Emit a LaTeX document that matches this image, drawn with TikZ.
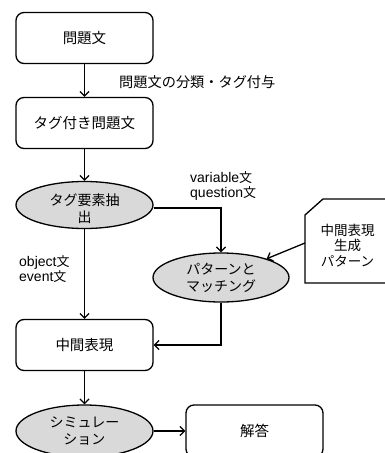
\documentclass[tikz,border=0pt]{standalone}
\usepackage{fontspec}
\setmainfont{Noto Sans CJK JP}
\newfontfamily\lat{Liberation Sans}
\usetikzlibrary{arrows.meta,shapes.geometric}
\definecolor{ellgray}{RGB}{217,217,217}
\tikzset{
  base/.style={draw=black, line width=1.3pt, inner sep=0pt, align=center,
    font=\fontsize{14.5}{17}\selectfont},
  procbox/.style={base, rectangle, rounded corners=8pt, fill=white,
    minimum width=137pt, minimum height=51pt},
  procell/.style={base, ellipse, fill=ellgray,
    minimum width=137pt, minimum height=47pt, font=\fontsize{14}{17}\selectfont},
  lbl/.style={inner sep=0pt, anchor=west, align=left, font=\fontsize{14.2}{15}\selectfont},
  conn/.style={line width=1.3pt, -{Straight Barb[length=4.5pt,width=9pt,line width=1.3pt]}}
}
\begin{document}
\begin{tikzpicture}[x=1pt,y=-1pt]
\useasboundingbox (0,0) rectangle (385,453);
% nodes
\node[procbox] (q1) at (84.5,38) {問題文};
\node[procbox] (q2) at (84.5,123) {タグ付き問題文};
\node[procell] (e1) at (84.5,205) {\raisebox{-9pt}[0pt][0pt]{\begin{tabular}{@{}c@{}}タグ要素抽\\出\end{tabular}}};
\node[procell, minimum width=136pt, minimum height=49pt] (pm) at (221,277.5) {パターンと\\マッチング};
\node[procbox] (q3) at (84.5,345) {中間表現};
\node[procell, minimum height=52pt] (sim) at (84.5,431) {シミュレー\\ション};
\node[procbox, minimum height=52pt] (ans) at (254.5,431) {解答};
% pattern box (cut-corner card)
\draw[line width=1.3pt, fill=white] (395,199) -- (323,199) -- (305,215) -- (305,283) -- (395,283);
\node[inner sep=0pt, align=center, font=\fontsize{13.5}{15.5}\selectfont] (pt) at (347.5,245.5) {中間表現\\生成\\パターン};
\coordinate (patL) at (305,243);
% labels
\node[lbl] (l1) at (119,82.5) {問題文の分類・タグ付与};
\node[lbl, font=\fontsize{13}{15}\selectfont] (l2) at (190,185.5) {{\lat\fontsize{14}{15}\selectfont variable}文\\{\lat\fontsize{14}{15}\selectfont question}文};
\node[lbl, font=\fontsize{13}{15}\selectfont] (l3) at (19,269.5) {{\lat\fontsize{14}{15}\selectfont object}文\\{\lat\fontsize{14}{15}\selectfont event}文};
% connectors
\draw[conn] (q1) -- (q2);
\draw[conn] (q2) -- (e1);
\draw[conn] ([yshift=-3pt]e1.east) -| (pm.north);
\draw[conn] (patL) -- (pm);
\draw[conn] (e1) -- (q3);
\draw[conn] (pm.south) |- (q3.east);
\draw[conn] (q3) -- (sim);
\draw[conn] (sim) -- (ans);
\end{tikzpicture}
\end{document}
